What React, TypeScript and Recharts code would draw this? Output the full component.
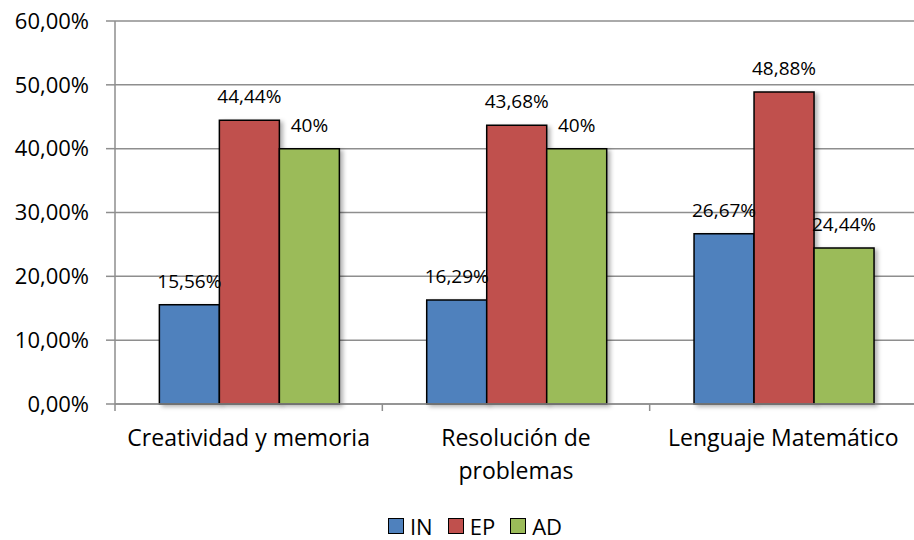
import { Bar, BarChart, CartesianGrid, LabelList, Legend, Rectangle, XAxis, YAxis } from 'recharts';

// Values (percent)
const categories = ['Creatividad y memoria', 'Resolución de\nproblemas', 'Lenguaje Matemático'];
const seriesNames = ['IN', 'EP', 'AD'];
const inValues = [15.56, 16.29, 26.67];
const epValues = [44.44, 43.68, 48.88];
const adValues = [40, 40, 24.44];
const yTicks = [0, 10, 20, 30, 40, 50, 60];

const seriesColors = ['#4F81BD', '#C0504D', '#9BBB59'];
const seriesKeys = ['in', 'ep', 'ad'];
const gridColor = '#8e8e8e';
const font = '"Open Sans", "DejaVu Sans", sans-serif';

const data = categories.map((name, i) => ({
  name,
  in: inValues[i],
  ep: epValues[i],
  ad: adValues[i],
}));

function fmtPct(v: number): string {
  if (Number.isInteger(v)) return `${v}%`;
  return `${v.toFixed(2).replace('.', ',')}%`;
}

function fmtTick(v: number): string {
  return `${v.toFixed(2).replace('.', ',')}%`;
}

const ShadowBar = (props: any) => (
  <g style={{ filter: 'drop-shadow(3px 2px 2px rgba(0,0,0,0.3))' }}>
    <Rectangle {...props} />
  </g>
);

// category labels (split on explicit line breaks) plus Excel-style tick marks
// on the category boundaries
const CategoryTick = ({ x, y, payload, width, visibleTicksCount, index }: any) => {
  const lines = String(payload.value).split('\n');
  const band = width / visibleTicksCount;
  const edges = [x - band / 2];
  if (index === visibleTicksCount - 1) edges.push(x + band / 2);
  return (
    <g>
      {edges.map((ex, i) => (
        <line key={i} x1={ex} x2={ex} y1={y} y2={y + 7} stroke={gridColor} strokeWidth={1.5} />
      ))}
      <text x={x} y={y} textAnchor="middle" fontSize={23} fill="#000" fontFamily={font}>
        {lines.map((line, i) => (
          <tspan key={i} x={x} dy={i === 0 ? 42 : 33}>
            {line}
          </tspan>
        ))}
      </text>
    </g>
  );
};

const LegendContent = () => (
  <div
    style={{
      display: 'flex',
      justifyContent: 'center',
      alignItems: 'center',
      height: 32,
      paddingTop: 4,
      boxSizing: 'border-box',
      fontFamily: font,
      fontSize: 22,
      lineHeight: '24px',
      color: '#000',
    }}
  >
    {seriesNames.map((name, i) => (
      <div key={name} style={{ display: 'flex', alignItems: 'center', marginRight: i < seriesNames.length - 1 ? 15 : 0 }}>
        <span
          style={{
            display: 'inline-block',
            width: 14,
            height: 14,
            background: seriesColors[i],
            border: '1.5px solid #000',
            marginRight: 6,
          }}
        />
        <span>{name}</span>
      </div>
    ))}
  </div>
);

export default function App() {
  return (
    <div style={{ position: 'absolute', left: 0, top: 0, width: 914, height: 540, overflow: 'hidden', background: '#fff' }}>
      <BarChart
        width={950}
        height={540}
        data={data}
        margin={{ top: 21, right: 33, left: 0, bottom: 0 }}
        barCategoryGap="16.6%"
        barGap={0}
      >
        <CartesianGrid vertical={false} stroke={gridColor} strokeWidth={1.5} />
        <XAxis
          dataKey="name"
          height={104}
          tickLine={false}
          tickSize={0}
          tickMargin={0}
          axisLine={{ stroke: gridColor, strokeWidth: 1.5 }}
          tick={<CategoryTick />}
          interval={0}
        />
        <YAxis
          width={115}
          domain={[0, 60]}
          ticks={yTicks}
          tickFormatter={fmtTick}
          tickSize={9}
          tickMargin={17}
          axisLine={{ stroke: gridColor, strokeWidth: 1.5 }}
          tickLine={{ stroke: gridColor, strokeWidth: 1.5 }}
          tick={{ fill: '#000', fontSize: 22, fontFamily: font }}
        />
        <Legend
          verticalAlign="bottom"
          width={950}
          height={32}
          wrapperStyle={{ left: 0, bottom: 0 }}
          content={<LegendContent />}
        />
        {seriesKeys.map((key, i) => (
          <Bar
            key={key}
            dataKey={key}
            name={seriesNames[i]}
            fill={seriesColors[i]}
            stroke="#000"
            strokeWidth={1.5}
            shape={<ShadowBar />}
            isAnimationActive={false}
          >
            <LabelList
              dataKey={key}
              position="top"
              offset={17}
              formatter={(v: any) => fmtPct(Number(v))}
              fill="#000"
              fontSize={19}
              fontFamily={font}
            />
          </Bar>
        ))}
      </BarChart>
    </div>
  );
}
